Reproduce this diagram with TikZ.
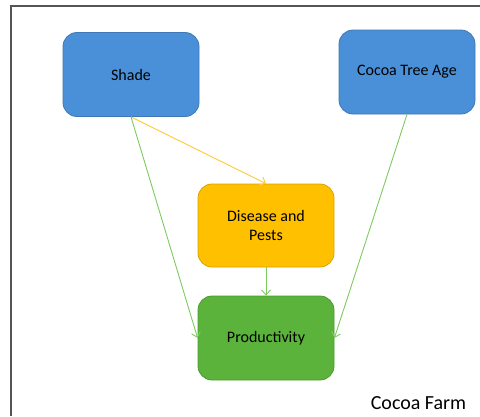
\documentclass[tikz,border=0pt]{standalone}
\usepackage{fontspec}
\setmainfont{Carlito}
\usetikzlibrary{arrows.meta}
\definecolor{boxblue}{HTML}{4A90D9}
\definecolor{blueedge}{HTML}{3F78B5}
\definecolor{boxyellow}{HTML}{FFC000}
\definecolor{yellowedge}{HTML}{D9A300}
\definecolor{boxgreen}{HTML}{5BB33B}
\definecolor{greenedge}{HTML}{4C9A30}
\definecolor{arrowgreen}{HTML}{7DCB5F}
\definecolor{arrowyellow}{HTML}{FFC83A}
\definecolor{framegray}{HTML}{555555}
\begin{document}
\begin{tikzpicture}[x=1pt,y=-1pt,
  box/.style={draw, rounded corners=14pt, line width=0.8pt, minimum width=136pt, minimum height=84pt,
    inner sep=2pt, font=\fontsize{16}{18}\selectfont, align=center, text=black},
  link/.style={line width=0.9pt, -{Straight Barb[length=5pt,width=9pt]}}]
\useasboundingbox (0,0) rectangle (480,416);
\draw[framegray, line width=1.5pt] (480,6) -- (11,6) -- (11,416);
\node[box, fill=boxblue, draw=blueedge] (shade) at (131,74.5) {Shade};
\node[box, fill=boxblue, draw=blueedge] (age) at (407,72) {Cocoa Tree Age};
\node[box, fill=boxyellow, draw=yellowedge, minimum height=83pt] (pests) at (266,225.5) {Disease and\\[1.5pt]Pests};
\node[box, fill=boxgreen, draw=greenedge] (prod) at (266,338) {Productivity};
\node[font=\fontsize{20}{22}\selectfont, text=black] (farm) at (418.5,403) {Cocoa Farm};
\draw[link, arrowyellow] (shade.south) -- (pests.north);
\draw[link, arrowgreen] (shade.south) -- (prod.west);
\draw[link, arrowgreen] (age.south) -- (prod.east);
\draw[link, arrowgreen] (pests.south) -- (prod.north);
\end{tikzpicture}
\end{document}
